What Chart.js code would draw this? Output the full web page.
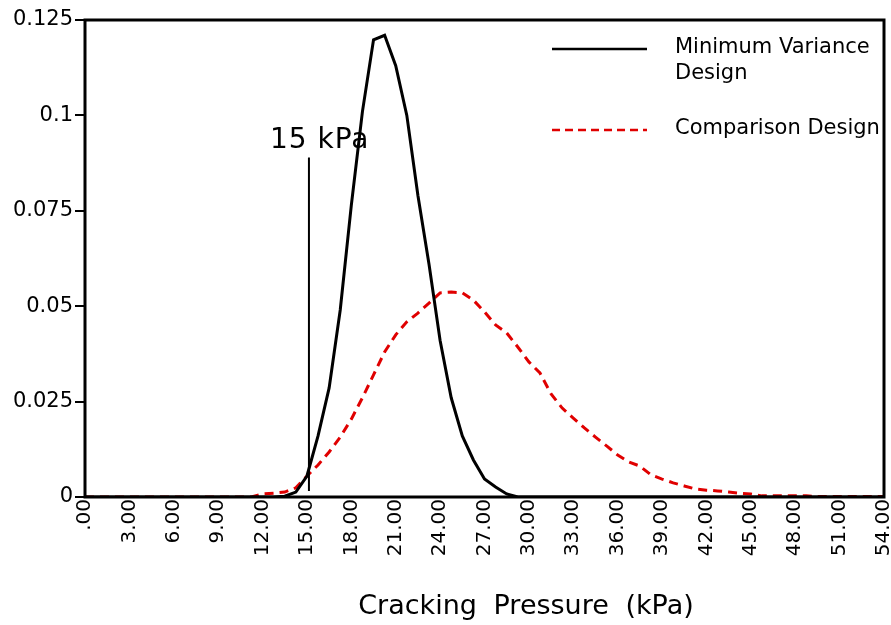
<!DOCTYPE html>
<html>
<head>
<meta charset="utf-8">
<script src="https://cdn.jsdelivr.net/npm/chart.js@4/dist/chart.umd.min.js"></script>
<style>
  html, body { margin: 0; padding: 0; background: #fff; }
  #wrap { width: 891px; height: 625px; }
</style>
</head>
<body>
<div id="wrap"><canvas id="myChart" width="891" height="625"></canvas></div>
<script>
// cracking pressure (kPa), one point every 0.75 kPa
let pressure = [0, 0.75, 1.5, 2.25, 3, 3.75, 4.5, 5.25, 6, 6.75, 7.5, 8.25, 9, 9.75, 10.5, 11.25,
  12, 12.75, 13.5, 14.25, 15, 15.75, 16.5, 17.25, 18, 18.75, 19.5, 20.25, 21, 21.75, 22.5, 23.25,
  24, 24.75, 25.5, 26.25, 27, 27.75, 28.5, 29.25, 30, 30.75, 31.5, 32.25, 33, 33.75, 34.5, 35.25,
  36, 36.75, 37.5, 38.25, 39, 39.75, 40.5, 41.25, 42, 42.75, 43.5, 44.25, 45, 45.75, 46.5, 47.25,
  48, 48.75, 49.5, 50.25, 51, 51.75, 52.5, 53.25, 54];

let minVariance = [0, 0, 0, 0, 0, 0, 0, 0, 0, 0, 0, 0, 0, 0, 0, 0,
  0, 0, 0.0002, 0.0013, 0.0055, 0.016, 0.0286, 0.049, 0.0765, 0.101, 0.1198, 0.121, 0.113, 0.100, 0.079, 0.061,
  0.041, 0.026, 0.016, 0.0097, 0.0047, 0.0026, 0.0008, 0, 0, 0, 0, 0, 0, 0, 0, 0,
  0, 0, 0, 0, 0, 0, 0, 0, 0, 0, 0, 0, 0, 0, 0, 0,
  0, 0, 0, 0, 0, 0, 0, 0, 0];

let comparison = [0, 0, 0, 0, 0, 0, 0, 0, 0, 0, 0, 0, 0, 0, 0, 0,
  0.0008, 0.001, 0.0013, 0.0024, 0.0055, 0.0084, 0.0118, 0.0157, 0.0204, 0.026, 0.032, 0.038, 0.0425, 0.0459, 0.0482, 0.0508,
  0.0535, 0.0537, 0.0535, 0.0516, 0.0485, 0.0451, 0.043, 0.0393, 0.0354, 0.0325, 0.027, 0.0233, 0.0207, 0.0181, 0.0157, 0.0134,
  0.011, 0.0092, 0.0081, 0.0058, 0.0047, 0.0037, 0.0029, 0.0021, 0.0018, 0.0016, 0.0013, 0.001, 0.0008, 0.0003, 0.0003, 0.0003,
  0.0003, 0.0003, 0.0001, 0.0001, 0.0001, 0.0001, 0.0001, 0.0001, 0.0001];

let seriesNames = [["Minimum Variance", "Design"], ["Comparison Design"]];
let yTicks = [0, 0.025, 0.05, 0.075, 0.1, 0.125];
let yTickLabels = ["0", "0.025", "0.05", "0.075", "0.1", "0.125"];
let cutoff = 15;
let cutoffLabel = "15 kPa";
let xTitle = "Cracking Pressure (kPa)";

const FONT = "'DejaVu Sans', sans-serif";
const RED = "#e00000";

function toPoints(values) {
  return pressure.map((p, i) => ({ x: p, y: values[i] }));
}

// frame, legend, 15 kPa marker and axis title
const extras = {
  id: "extras",
  afterDatasetsDraw(chart) {
    const ctx = chart.ctx;
    const a = chart.chartArea;
    const xs = chart.scales.x;
    const ys = chart.scales.y;
    ctx.save();

    // 15 kPa marker
    const cx = xs.getPixelForValue(cutoff) + 2;
    ctx.strokeStyle = "#000";
    ctx.lineWidth = 2;
    ctx.beginPath();
    ctx.moveTo(cx, ys.getPixelForValue(0.0016));
    ctx.lineTo(cx, ys.getPixelForValue(0.089));
    ctx.stroke();
    ctx.fillStyle = "#000";
    ctx.font = "28px " + FONT;
    ctx.letterSpacing = "1px";
    ctx.textAlign = "left";
    ctx.textBaseline = "alphabetic";
    ctx.fillText(cutoffLabel, cx - 39, ys.getPixelForValue(0.0915));
    ctx.letterSpacing = "0px";

    // legend
    ctx.font = "21px " + FONT;
    ctx.textBaseline = "middle";
    ctx.lineWidth = 2.5;
    ctx.strokeStyle = "#000";
    ctx.beginPath();
    ctx.moveTo(552, 49);
    ctx.lineTo(647, 49);
    ctx.stroke();
    ctx.fillText(seriesNames[0][0], 675, 48);
    ctx.fillText(seriesNames[0][1], 675, 74);
    ctx.strokeStyle = RED;
    ctx.setLineDash([8, 5]);
    ctx.beginPath();
    ctx.moveTo(552, 130);
    ctx.lineTo(647, 130);
    ctx.stroke();
    ctx.setLineDash([]);
    ctx.fillText(seriesNames[1][0], 675, 129);

    // frame
    ctx.strokeStyle = "#000";
    ctx.lineWidth = 3;
    ctx.strokeRect(a.left, a.top, a.right - a.left, a.bottom - a.top);

    // x title
    ctx.font = "27px " + FONT;
    ctx.wordSpacing = "8px";
    ctx.textAlign = "center";
    ctx.fillText(xTitle, 526, 607);
    ctx.restore();
  }
};

let myChart = document.getElementById("myChart").getContext("2d");
let pressureChart = new Chart(myChart, {
  type: "line",
  data: {
    datasets: [
      {
        label: seriesNames[0].join(" "),
        data: toPoints(minVariance),
        borderColor: "#000",
        borderWidth: 3,
        pointRadius: 0,
        tension: 0,
      },
      {
        label: seriesNames[1].join(" "),
        data: toPoints(comparison),
        borderColor: RED,
        borderWidth: 3,
        borderDash: [9, 6],
        pointRadius: 0,
        tension: 0,
      },
    ],
  },
  options: {
    responsive: false,
    animation: false,
    layout: { padding: { top: 20, right: 7, left: 0, bottom: 0 } },
    plugins: {
      legend: { display: false },
      tooltip: { enabled: false },
    },
    scales: {
      x: {
        type: "linear",
        min: 0,
        max: 54,
        grid: { display: false, drawTicks: false },
        border: { display: false },
        afterFit: (s) => {
          s.height = 128;
          s.paddingLeft = 0;
          s.paddingRight = 0;
        },
        ticks: {
          stepSize: 3,
          autoSkip: false,
          minRotation: 90,
          maxRotation: 90,
          padding: 2,
          color: "#000",
          font: { family: FONT, size: 20 },
          callback: (v) => (v === 0 ? ".00" : v.toFixed(2)),
        },
      },
      y: {
        min: 0,
        max: 0.125,
        afterFit: (s) => {
          s.width = 85;
          s.paddingTop = 0;
          s.paddingBottom = 0;
        },
        afterBuildTicks: (s) => { s.ticks = yTicks.map((v) => ({ value: v })); },
        grid: { drawOnChartArea: false, tickLength: 10, color: "#000", lineWidth: 2 },
        border: { display: false },
        ticks: {
          padding: 2,
          color: "#000",
          font: { family: FONT, size: 21 },
          callback: (v) => yTickLabels[yTicks.indexOf(v)],
        },
      },
    },
  },
  plugins: [extras],
});
</script>
</body>
</html>
